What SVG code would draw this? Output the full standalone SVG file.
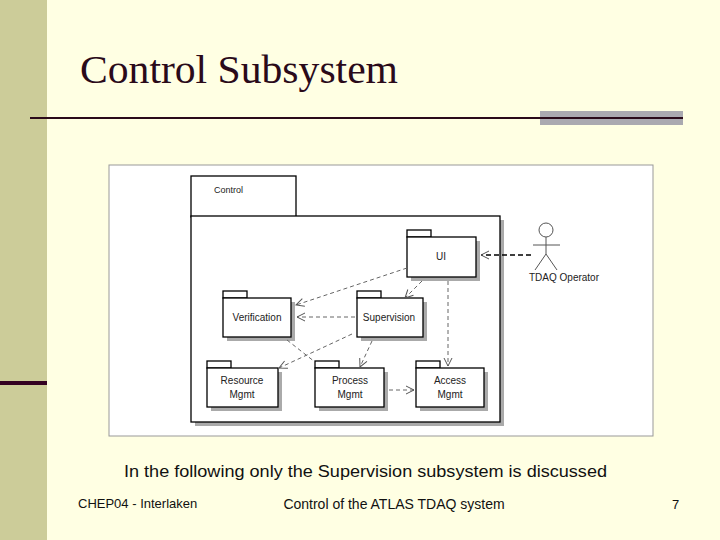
<svg xmlns="http://www.w3.org/2000/svg" width="720" height="540" viewBox="0 0 720 540">
<defs>
<marker id="a" markerWidth="10" markerHeight="10" refX="9" refY="5" orient="auto" markerUnits="userSpaceOnUse"><path d="M1,1 L9,5 L1,9" fill="none" stroke="#555" stroke-width="1"/></marker>
</defs>
<style>
.b{fill:#fff;stroke:#000;stroke-width:1.3}
.sh{fill:#aaa}
.t{font-family:"Liberation Sans",Arial,sans-serif;font-size:10px;fill:#222;text-anchor:middle}
.c{fill:none;stroke:#666;stroke-width:1;stroke-dasharray:4,3;marker-end:url(#a)}
</style>
<rect width="720" height="540" fill="#ffffe3"/>
<rect width="47" height="540" fill="#cccc99"/>
<rect x="0" y="381" width="47" height="4" fill="#330022"/>
<text x="80" y="83" font-family="Liberation Serif,serif" font-size="40" fill="#2a0a1a" textLength="318" lengthAdjust="spacingAndGlyphs">Control Subsystem</text>
<rect x="540" y="111" width="143" height="14" fill="#aaa9b0"/>
<rect x="30" y="117" width="653" height="2" fill="#2a0a1a"/>
<rect x="109" y="165" width="544" height="271" fill="#fff" stroke="#999"/>
<g id="control">
<rect x="195" y="220" width="309" height="206" class="sh"/>
<rect x="191" y="176" width="105" height="41" class="b"/>
<rect x="191" y="216" width="309" height="206" class="b"/>
<text x="214" y="193" class="t" style="text-anchor:start;font-size:9px">Control</text>
</g>
<g id="ui"><rect x="411" y="241" width="69" height="40" class="sh"/><rect x="407" y="230" width="24" height="7" class="b"/><rect x="407" y="237" width="69" height="40" class="b"/><text x="441" y="260" class="t">UI</text></g>
<g id="verification"><rect x="227" y="302" width="68" height="39" class="sh"/><rect x="223" y="291" width="24" height="7" class="b"/><rect x="223" y="298" width="68" height="39" class="b"/><text x="257" y="321" class="t">Verification</text></g>
<g id="supervision"><rect x="361" y="302" width="66" height="39" class="sh"/><rect x="357" y="291" width="24" height="7" class="b"/><rect x="357" y="298" width="66" height="39" class="b"/><text x="389" y="321" class="t">Supervision</text></g>
<g id="resource"><rect x="211" y="372" width="71" height="39" class="sh"/><rect x="207" y="361" width="24" height="7" class="b"/><rect x="207" y="368" width="71" height="39" class="b"/><text x="242" y="384" class="t">Resource</text><text x="242" y="398" class="t">Mgmt</text></g>
<g id="process"><rect x="319" y="372" width="69" height="39" class="sh"/><rect x="315" y="361" width="24" height="7" class="b"/><rect x="315" y="368" width="69" height="39" class="b"/><text x="350" y="384" class="t">Process</text><text x="350" y="398" class="t">Mgmt</text></g>
<g id="access"><rect x="420" y="372" width="68" height="39" class="sh"/><rect x="416" y="361" width="24" height="7" class="b"/><rect x="416" y="368" width="68" height="39" class="b"/><text x="450" y="384" class="t">Access</text><text x="450" y="398" class="t">Mgmt</text></g>
<g id="operator" stroke="#555" fill="none" stroke-width="1">
<circle cx="546" cy="230" r="7" fill="#fff"/>
<line x1="546" y1="237" x2="546" y2="254"/>
<line x1="533" y1="245" x2="560" y2="245"/>
<line x1="546" y1="254" x2="535" y2="270"/>
<line x1="546" y1="254" x2="557" y2="270"/>
<text x="564" y="281" class="t" stroke="none" fill="#222">TDAQ Operator</text>
</g>
<g id="connectors">
<path d="M531,255 H481" fill="none" stroke="#000" stroke-width="1.5" stroke-dasharray="5,3" marker-end="url(#a)"/>
<path d="M407,268 L296,305" class="c"/>
<path d="M422,281 L405,298" class="c"/>
<path d="M448,281 V366" class="c"/>
<path d="M355,317 H297" class="c"/>
<path d="M352,334 L279,368" class="c"/>
<path d="M372,341 L360,367" class="c"/>
<path d="M389,390 H414" class="c"/>
<path d="M287,340 L315,362" fill="none" stroke="#666" stroke-dasharray="4,3"/>
</g>
<text x="124" y="477" font-family="Liberation Sans,Arial,sans-serif" font-size="16" fill="#111" textLength="483" lengthAdjust="spacingAndGlyphs">In the following only the  Supervision subsystem is discussed</text>
<text x="78" y="508" font-family="Liberation Sans,Arial,sans-serif" font-size="13" fill="#111">CHEP04 - Interlaken</text>
<text x="394" y="509" font-family="Liberation Sans,Arial,sans-serif" font-size="14" fill="#111" text-anchor="middle">Control of the ATLAS TDAQ system</text>
<text x="672" y="509" font-family="Liberation Sans,Arial,sans-serif" font-size="13" fill="#111">7</text>
</svg>
